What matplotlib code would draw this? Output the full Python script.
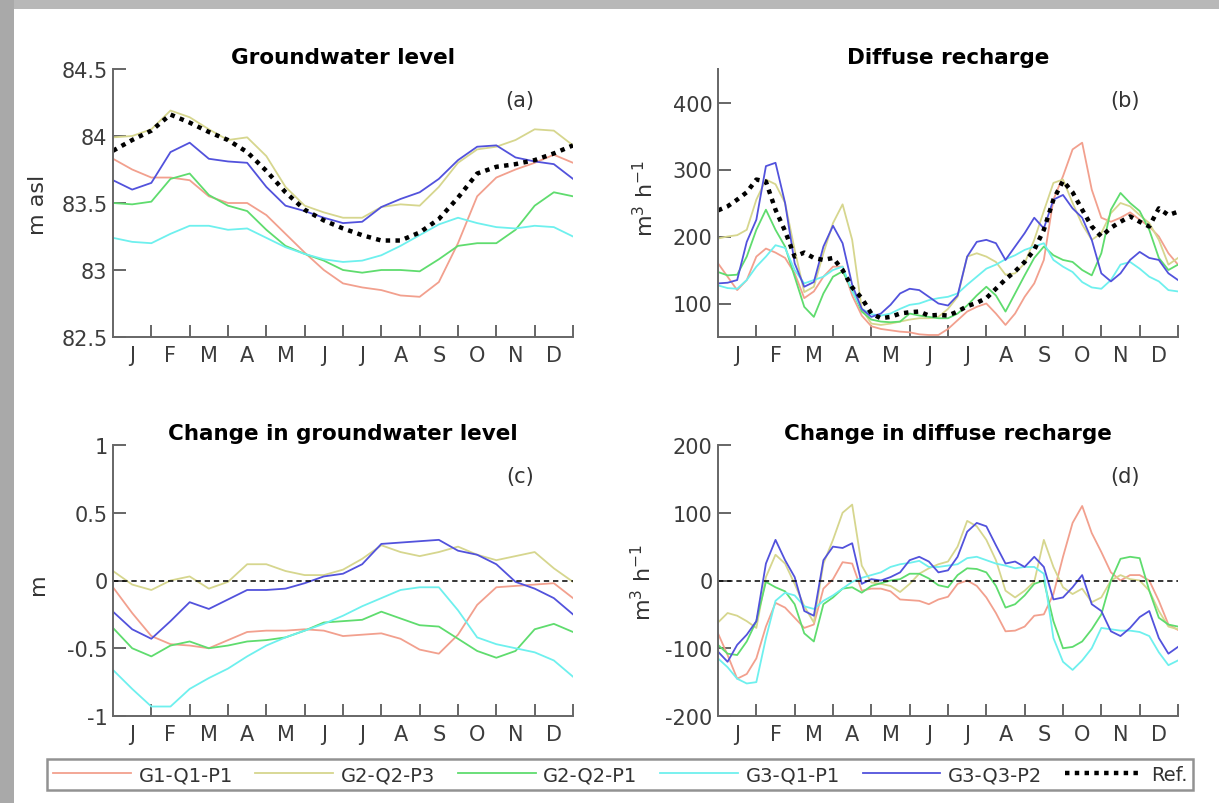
import numpy as np
import matplotlib
matplotlib.use('Agg')
import matplotlib.pyplot as plt
from matplotlib.patches import Rectangle

plt.rcParams['font.family'] = ['DejaVu Sans']
plt.rcParams['font.size'] = 15
plt.rcParams['axes.unicode_minus'] = False

month_labels = ['J', 'F', 'M', 'A', 'M', 'J', 'J', 'A', 'S', 'O', 'N', 'D']
scenarios = ['G1-Q1-P1', 'G2-Q2-P3', 'G2-Q2-P1', 'G3-Q1-P1', 'G3-Q3-P2']
colors = ['#f2a08e', '#d6d68e', '#5fdc6e', '#6ef0ee', '#5252dc']

# sample positions in months (half month for levels, quarter month for recharge)
x_half = np.arange(0, 12.01, 0.5)
x_quarter = np.arange(0, 12.01, 0.25)

# (a) groundwater level, m asl
gwl_ref = [83.89, 83.97, 84.04, 84.16, 84.10, 84.03, 83.97, 83.88, 83.74, 83.58, 83.45, 83.37, 83.31,
           83.26, 83.22, 83.22, 83.28, 83.38, 83.54, 83.72, 83.77, 83.79, 83.82, 83.87, 83.93]
gwl_g1q1p1 = [83.83, 83.75, 83.69, 83.69, 83.67, 83.55, 83.50, 83.50, 83.41, 83.27, 83.13, 83.00, 82.90,
              82.87, 82.85, 82.81, 82.80, 82.91, 83.20, 83.55, 83.69, 83.75, 83.80, 83.86, 83.80]
gwl_g2q2p3 = [83.99, 84.00, 84.05, 84.19, 84.14, 84.05, 83.97, 83.99, 83.85, 83.62, 83.48, 83.43, 83.39,
              83.39, 83.47, 83.49, 83.48, 83.62, 83.80, 83.90, 83.92, 83.97, 84.05, 84.04, 83.93]
gwl_g2q2p1 = [83.50, 83.49, 83.51, 83.68, 83.72, 83.56, 83.48, 83.44, 83.30, 83.18, 83.12, 83.07, 83.00,
              82.98, 83.00, 83.00, 82.99, 83.08, 83.18, 83.20, 83.20, 83.30, 83.48, 83.58, 83.55]
gwl_g3q1p1 = [83.24, 83.21, 83.20, 83.27, 83.33, 83.33, 83.30, 83.31, 83.24, 83.17, 83.12, 83.08, 83.06,
              83.07, 83.11, 83.18, 83.26, 83.34, 83.39, 83.35, 83.32, 83.31, 83.33, 83.32, 83.25]
gwl_g3q3p2 = [83.67, 83.60, 83.65, 83.88, 83.95, 83.83, 83.81, 83.80, 83.62, 83.48, 83.44, 83.39, 83.35,
              83.36, 83.47, 83.53, 83.58, 83.68, 83.82, 83.92, 83.93, 83.84, 83.81, 83.79, 83.68]

# (b) diffuse recharge, m3/h
rch_ref = [239, 245, 255, 266, 285, 282, 240, 208, 170, 176, 168, 165, 168, 150, 124, 108, 85, 78, 80, 85,
           87, 88, 82, 83, 82, 88, 96, 101, 108, 122, 136, 148, 162, 180, 210, 255, 283, 266, 240, 215,
           200, 213, 222, 230, 222, 215, 242, 232, 237]
rch_g1q1p1 = [160, 140, 120, 135, 170, 182, 176, 168, 145, 108, 118, 140, 155, 155, 112, 82, 66, 62, 60, 58,
              57, 54, 53, 53, 62, 75, 88, 95, 100, 85, 68, 85, 110, 130, 165, 255, 290, 330, 340, 270,
              228, 222, 228, 236, 225, 215, 200, 175, 158]
rch_g2q2p3 = [197, 200, 202, 210, 255, 285, 278, 250, 180, 117, 125, 175, 220, 248, 195, 92, 70, 68, 70, 73,
              76, 78, 78, 80, 92, 110, 170, 175, 170, 162, 143, 145, 160, 195, 238, 280, 285, 250, 218, 195,
              205, 235, 250, 245, 232, 220, 195, 158, 168]
rch_g2q2p1 = [147, 142, 143, 170, 210, 240, 210, 185, 140, 95, 80, 115, 140, 148, 120, 88, 76, 73, 72, 73,
              85, 82, 80, 78, 78, 85, 97, 112, 125, 112, 88, 115, 142, 168, 185, 172, 165, 162, 150, 142,
              175, 240, 265, 250, 238, 210, 168, 150, 158]
rch_g3q1p1 = [127, 123, 122, 135, 155, 170, 187, 183, 150, 130, 135, 140, 150, 155, 118, 92, 84, 82, 85, 92,
              98, 100, 105, 108, 110, 115, 128, 140, 152, 158, 166, 172, 180, 185, 190, 165, 155, 147, 132, 124,
              122, 135, 158, 162, 152, 140, 133, 120, 118]
rch_g3q3p2 = [130, 131, 135, 192, 225, 305, 310, 250, 160, 125, 132, 185, 216, 190, 128, 92, 80, 85, 98, 115,
              122, 120, 110, 100, 97, 112, 170, 192, 195, 190, 165, 185, 205, 228, 212, 255, 262, 242, 228, 195,
              145, 133, 145, 165, 177, 168, 165, 145, 135]

# (c) change in groundwater level, m
dgwl_ref = [0, 0]
dgwl_g1q1p1 = [-0.05, -0.24, -0.41, -0.47, -0.48, -0.50, -0.44, -0.38, -0.37, -0.37, -0.36, -0.37, -0.41,
               -0.40, -0.39, -0.43, -0.51, -0.54, -0.40, -0.18, -0.05, -0.04, -0.03, -0.02, -0.13]
dgwl_g2q2p3 = [0.07, -0.03, -0.07, 0.00, 0.03, -0.06, -0.01, 0.12, 0.12, 0.07, 0.04, 0.04, 0.08,
               0.16, 0.26, 0.21, 0.18, 0.21, 0.25, 0.19, 0.15, 0.18, 0.21, 0.09, -0.01]
dgwl_g2q2p1 = [-0.35, -0.50, -0.56, -0.48, -0.45, -0.50, -0.48, -0.45, -0.44, -0.42, -0.37, -0.31, -0.30,
               -0.29, -0.23, -0.28, -0.33, -0.34, -0.43, -0.52, -0.57, -0.52, -0.36, -0.32, -0.38]
dgwl_g3q1p1 = [-0.66, -0.80, -0.93, -0.93, -0.80, -0.72, -0.65, -0.56, -0.48, -0.42, -0.37, -0.32, -0.26,
               -0.19, -0.13, -0.07, -0.05, -0.05, -0.22, -0.42, -0.47, -0.50, -0.53, -0.59, -0.71]
dgwl_g3q3p2 = [-0.23, -0.36, -0.43, -0.30, -0.16, -0.21, -0.14, -0.07, -0.07, -0.06, -0.02, 0.03, 0.05,
               0.12, 0.27, 0.28, 0.29, 0.30, 0.22, 0.19, 0.12, -0.01, -0.06, -0.13, -0.25]

# (d) change in diffuse recharge, m3/h
drch_ref = [0, 0]
drch_g1q1p1 = [-78, -110, -145, -138, -115, -68, -33, -40, -55, -70, -65, -12, 2, 27, 25, -15, -12, -12, -16, -28,
               -29, -30, -35, -28, -24, -5, 0, -8, -25, -48, -75, -74, -68, -52, -50, -20, 35, 85, 110, 70,
               42, 12, 0, 8, 8, 0, -30, -65, -73]
drch_g2q2p3 = [-62, -48, -52, -60, -70, 5, 38, 25, -5, -38, -62, 25, 60, 100, 112, 22, -3, -5, -8, -17,
               -5, 10, 18, 24, 28, 50, 88, 80, 60, 30, -15, -25, -15, -2, 60, 20, -10, -20, -12, -32,
               -25, 0, 8, 2, 0, -15, -45, -68, -72]
drch_g2q2p1 = [-95, -108, -110, -90, -60, -2, -10, -16, -35, -78, -90, -35, -25, -12, -10, -18, -8, -4, 0, 2,
               10, 10, 3, -7, -10, 8, 18, 17, 12, -8, -40, -35, -22, -5, 0, -60, -100, -98, -90, -72,
               -50, 0, 32, 35, 33, -15, -55, -65, -68]
drch_g3q1p1 = [-115, -128, -145, -152, -150, -85, -30, -18, -22, -38, -42, -30, -22, -12, -2, 4, 8, 12, 20, 24,
               26, 29, 20, 20, 22, 24, 33, 35, 30, 25, 22, 18, 20, 20, 10, -85, -120, -132, -118, -100,
               -70, -72, -74, -74, -76, -82, -106, -125, -118]
drch_g3q3p2 = [-105, -120, -95, -80, -60, 25, 60, 30, 5, -45, -52, 30, 50, 48, 55, -5, 2, 0, 5, 12,
               30, 35, 28, 12, 15, 35, 72, 85, 80, 52, 25, 28, 20, 35, 20, -28, -25, -10, 8, -35,
               -45, -75, -82, -70, -54, -45, -85, -108, -98]

W, H = 1219, 804
fig = plt.figure(figsize=(W / 100, H / 100), dpi=100)

# grey frame on the top and left edge
fig.patches.append(Rectangle((0, 1 - 10 / H), 1, 10 / H, transform=fig.transFigure,
                             facecolor='#b8b8b8', edgecolor='none', zorder=-5))
fig.patches.append(Rectangle((0, 0), 14 / W, 1, transform=fig.transFigure,
                             facecolor='#a9a9a9', edgecolor='none', zorder=-5))


def px_axes(left, top, right, bottom):
    return fig.add_axes([left / W, 1 - bottom / H, (right - left) / W, (bottom - top) / H])


def style_axes(ax, ylim, yticks, yticklabels, title, tag):
    ax.set_xlim(0, 12)
    ax.set_ylim(*ylim)
    for s in ['top', 'right']:
        ax.spines[s].set_visible(False)
    for s in ['left', 'bottom']:
        ax.spines[s].set_color('#666666')
        ax.spines[s].set_linewidth(1.4)
    ax.set_xticks(np.arange(1, 13))
    ax.set_xticklabels([])
    ax.set_xticks(np.arange(0.5, 12, 1), minor=True)
    ax.set_xticklabels(month_labels, minor=True)
    ax.tick_params(axis='x', which='major', direction='in', length=9, width=1.4, color='#666666')
    ax.tick_params(axis='x', which='minor', length=0, pad=6, labelcolor='#3c3c3c')
    ax.set_yticks(yticks)
    ax.set_yticklabels(yticklabels)
    ax.tick_params(axis='y', direction='in', length=9, width=1.4, color='#666666', pad=4,
                   labelcolor='#3c3c3c')
    ax.set_title(title, fontweight='bold', fontsize=15.5, pad=4)
    ax.text(0.885, 0.885, tag, transform=ax.transAxes, ha='center', va='center', color='#333333')


ax_a = px_axes(113, 70, 573, 338)
ax_b = px_axes(718, 70, 1178, 338)
ax_c = px_axes(113, 446, 573, 717)
ax_d = px_axes(718, 446, 1178, 717)

lines = []
for data, c in zip([gwl_g1q1p1, gwl_g2q2p3, gwl_g2q2p1, gwl_g3q1p1, gwl_g3q3p2], colors):
    lines.append(ax_a.plot(x_half, data, color=c, lw=1.3)[0])
ref_line, = ax_a.plot(x_half, gwl_ref, color='black', lw=3.2, ls=(0, (1, 1.2)))
style_axes(ax_a, (82.5, 84.5), [82.5, 83, 83.5, 84, 84.5], ['82.5', '83', '83.5', '84', '84.5'],
           'Groundwater level', '(a)')

for data, c in zip([rch_g1q1p1, rch_g2q2p3, rch_g2q2p1, rch_g3q1p1, rch_g3q3p2], colors):
    ax_b.plot(x_quarter, data, color=c, lw=1.3)
ax_b.plot(x_quarter, rch_ref, color='black', lw=3.2, ls=(0, (1, 1.2)))
style_axes(ax_b, (50, 450), [100, 200, 300, 400], ['100', '200', '300', '400'],
           'Diffuse recharge', '(b)')

for data, c in zip([dgwl_g1q1p1, dgwl_g2q2p3, dgwl_g2q2p1, dgwl_g3q1p1, dgwl_g3q3p2], colors):
    ax_c.plot(x_half, data, color=c, lw=1.3)
ax_c.plot([0, 12], dgwl_ref, color='black', lw=1.1, ls=(0, (3.5, 2.5)))
style_axes(ax_c, (-1, 1), [-1, -0.5, 0, 0.5, 1], ['-1', '-0.5', '0', '0.5', '1'],
           'Change in groundwater level', '(c)')

for data, c in zip([drch_g1q1p1, drch_g2q2p3, drch_g2q2p1, drch_g3q1p1, drch_g3q3p2], colors):
    ax_d.plot(x_quarter, data, color=c, lw=1.3)
ax_d.plot([0, 12], drch_ref, color='black', lw=1.1, ls=(0, (3.5, 2.5)))
style_axes(ax_d, (-200, 200), [-200, -100, 0, 100, 200], ['-200', '-100', '0', '100', '200'],
           'Change in diffuse recharge', '(d)')

# y labels
unit = r'$\mathregular{m^3\ h^{-1}}$'
fig.text(38 / W, 1 - 205 / H, 'm asl', rotation=90, ha='center', va='center', fontsize=16, color='#333333')
fig.text(645 / W, 1 - 198 / H, unit, rotation=90, ha='center', va='center', fontsize=16, color='#333333')
fig.text(38 / W, 1 - 584 / H, 'm', rotation=90, ha='center', va='center', fontsize=16, color='#333333')
fig.text(643 / W, 1 - 582 / H, unit, rotation=90, ha='center', va='center', fontsize=16, color='#333333')

leg = fig.legend(lines + [ref_line], scenarios + ['Ref.'], ncol=6, mode='expand',
                 loc='lower left', bbox_to_anchor=(47 / W, 1 - 791 / H, 1146 / W, 34 / H),
                 frameon=True, fancybox=False, handlelength=4.0, handletextpad=0.4,
                 borderpad=0.3, borderaxespad=0, fontsize=14)
leg.get_frame().set_edgecolor('#777777')
leg.get_frame().set_linewidth(1.8)
for t in leg.get_texts():
    t.set_color('#333333')

fig.savefig('out.png', dpi=100)
